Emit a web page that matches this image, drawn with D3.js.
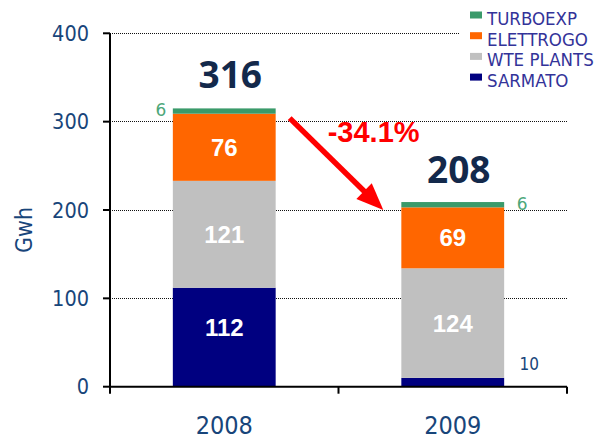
<!DOCTYPE html>
<html>
<head>
<meta charset="utf-8">
<script src="https://cdn.jsdelivr.net/npm/d3@7/dist/d3.min.js"></script>
<style>
  html, body { margin: 0; padding: 0; background: #fff; }
  svg { display: block; }
</style>
</head>
<body>
<svg id="chart" width="594" height="440"></svg>
<script>
// ---- data ----
const years = ["2008", "2009"];
const seriesNames = ["SARMATO", "WTE PLANTS", "ELETTROGO", "TURBOEXP"];
const sarmato = [112, 10];
const wtePlants = [121, 124];
const elettrogo = [76, 69];
const turboexp = [6, 6];
const totals = [316, 208];
const changeLabel = "-34.1%";
const yTicks = [0, 100, 200, 300, 400];
const legendOrder = ["TURBOEXP", "ELETTROGO", "WTE PLANTS", "SARMATO"];
const seriesColors = ["#000080", "#C0C0C0", "#FF6600", "#3A9A6A"];

// ---- build ----
(function () {
const svg = d3.select("#chart");
const pLeft = 110, pRight = 567, pTop = 33.3, pBottom = 386.7;

const y = d3.scaleLinear().domain([0, 400]).range([pBottom, pTop]);
const x = d3.scaleBand().domain(years).range([pLeft, pRight]).paddingInner(0.55).paddingOuter(0.275);
const xOuter = d3.scaleBand().domain(years).range([pLeft, pRight]).padding(0);
const color = d3.scaleOrdinal().domain(seriesNames).range(seriesColors);

const table = years.map((yr, i) => ({
  year: yr,
  "SARMATO": sarmato[i],
  "WTE PLANTS": wtePlants[i],
  "ELETTROGO": elettrogo[i],
  "TURBOEXP": turboexp[i],
  total: totals[i]
}));
const stacked = d3.stack().keys(seriesNames)(table);

const axisColor = "#18457A";
const tickFont = "'DejaVu Sans Condensed', 'DejaVu Sans', sans-serif";

// gridlines (dotted)
svg.append("g").selectAll("line").data(yTicks.filter(t => t > 0)).join("line")
  .attr("x1", pLeft).attr("x2", pRight)
  .attr("y1", d => y(d)).attr("y2", d => y(d))
  .attr("stroke", "#111").attr("stroke-width", 1).attr("stroke-dasharray", "1,1")
  .attr("shape-rendering", "crispEdges");

// bars
const layers = svg.append("g").selectAll("g").data(stacked).join("g")
  .attr("fill", d => color(d.key));
layers.selectAll("rect").data(d => d).join("rect")
  .attr("x", d => x(d.data.year))
  .attr("width", x.bandwidth())
  .attr("y", d => y(d[1]))
  .attr("height", d => y(d[0]) - y(d[1]));

// inside labels (white)
const insideKeys = ["SARMATO", "WTE PLANTS", "ELETTROGO"];
stacked.filter(s => insideKeys.includes(s.key)).forEach(s => {
  s.forEach(d => {
    const v = d[1] - d[0];
    if (v < 20) return;
    svg.append("text")
      .attr("x", x(d.data.year) + x.bandwidth() / 2)
      .attr("y", (y(d[0]) + y(d[1])) / 2 - (s.key === "SARMATO" ? 10 : 0))
      .attr("dy", "0.36em")
      .attr("text-anchor", "middle")
      .attr("fill", "#fff")
      .attr("font-family", "'Liberation Sans', Arial, sans-serif")
      .attr("font-weight", "bold")
      .attr("font-size", 24)
      .text(v);
  });
});

// outside small labels
const turbo = stacked.find(s => s.key === "TURBOEXP");
turbo.forEach((d, i) => {
  const cx = i === 0 ? x(d.data.year) - 12 : x(d.data.year) + x.bandwidth() + 18;
  svg.append("text")
    .attr("x", cx).attr("y", y(d[1]) + 8)
    .attr("text-anchor", "middle")
    .attr("fill", "#4DA77A")
    .attr("font-family", "'DejaVu Sans', sans-serif")
    .attr("font-size", 17)
    .text(d[1] - d[0]);
});
const sar = stacked.find(s => s.key === "SARMATO");
sar.forEach((d) => {
  const v = d[1] - d[0];
  if (v >= 20) return;
  svg.append("text")
    .attr("x", x(d.data.year) + x.bandwidth() + 25).attr("y", y(d[1]) - 8)
    .attr("text-anchor", "middle")
    .attr("fill", axisColor)
    .attr("font-family", tickFont)
    .attr("font-size", 17)
    .text(v);
});

// totals
table.forEach(d => {
  svg.append("text")
    .attr("x", x(d.year) + x.bandwidth() / 2 + 6)
    .attr("y", y(d.total) - 19.5)
    .attr("text-anchor", "middle")
    .attr("fill", "#13294B")
    .attr("font-family", "'Open Sans', 'Noto Sans', sans-serif")
    .attr("font-weight", "bold")
    .attr("font-size", 37)
    .text(d.total);
});

// y axis
svg.append("line").attr("x1", pLeft).attr("x2", pLeft).attr("y1", pTop).attr("y2", pBottom + 7)
  .attr("stroke", "#000").attr("stroke-width", 2);
svg.append("g").selectAll("line").data(yTicks).join("line")
  .attr("x1", pLeft - 7).attr("x2", pLeft)
  .attr("y1", d => y(d)).attr("y2", d => y(d))
  .attr("stroke", "#000").attr("stroke-width", 2);
svg.append("g").selectAll("text").data(yTicks).join("text")
  .attr("x", pLeft - 21).attr("y", d => y(d))
  .attr("dy", "0.36em")
  .attr("text-anchor", "end")
  .attr("fill", axisColor)
  .attr("font-family", tickFont)
  .attr("font-size", 21.5)
  .text(d => d);

// x axis
svg.append("line").attr("x1", pLeft).attr("x2", pRight).attr("y1", pBottom).attr("y2", pBottom)
  .attr("stroke", "#000").attr("stroke-width", 2);
const bounds = years.map(d => xOuter(d)).concat([xOuter(years[years.length - 1]) + xOuter.bandwidth()]);
svg.append("g").selectAll("line").data(bounds.slice(1)).join("line")
  .attr("x1", d => d).attr("x2", d => d)
  .attr("y1", pBottom).attr("y2", pBottom + 7)
  .attr("stroke", "#000").attr("stroke-width", 2);
svg.append("g").selectAll("text").data(years).join("text")
  .attr("x", d => x(d) + x.bandwidth() / 2)
  .attr("y", 434)
  .attr("text-anchor", "middle")
  .attr("fill", axisColor)
  .attr("font-family", tickFont)
  .attr("font-size", 25)
  .text(d => d);

// y axis title
svg.append("text")
  .attr("transform", `translate(32,230) rotate(-90)`)
  .attr("text-anchor", "middle")
  .attr("fill", axisColor)
  .attr("font-family", tickFont)
  .attr("font-size", 23)
  .text("Gwh");

// arrow
const ax1 = x(years[0]) + x.bandwidth() + 14, ay1 = y(304);
const ax2 = x(years[1]) - 18, ay2 = y(200);
const ang = Math.atan2(ay2 - ay1, ax2 - ax1);
const headLen = 27, headHalf = 11;
const bx = ax2 - headLen * Math.cos(ang), by = ay2 - headLen * Math.sin(ang);
svg.append("line")
  .attr("x1", ax1).attr("y1", ay1).attr("x2", bx + 2 * Math.cos(ang)).attr("y2", by + 2 * Math.sin(ang))
  .attr("stroke", "#FF0000").attr("stroke-width", 5.5);
svg.append("polygon")
  .attr("points", [
    [ax2, ay2],
    [bx - headHalf * Math.sin(ang), by + headHalf * Math.cos(ang)],
    [bx + headHalf * Math.sin(ang), by - headHalf * Math.cos(ang)]
  ].map(p => p.join(",")).join(" "))
  .attr("fill", "#FF0000");
svg.append("text")
  .attr("x", ax1 + 38).attr("y", y(277))
  .attr("fill", "#FF0000")
  .attr("font-family", "'Liberation Sans', Arial, sans-serif")
  .attr("font-weight", "bold")
  .attr("font-size", 29)
  .text(changeLabel);

// legend
const lg = svg.append("g");
lg.append("rect").attr("x", 460).attr("y", 0).attr("width", 134).attr("height", 95).attr("fill", "#fff");
legendOrder.forEach((k, i) => {
  const base = 25 + i * 20.7;
  lg.append("rect").attr("x", 470).attr("y", base - 13.5).attr("width", 12).attr("height", 7)
    .attr("fill", color(k));
  lg.append("text").attr("x", 487).attr("y", base)
    .attr("fill", "#333399")
    .attr("font-family", tickFont)
    .attr("font-size", 18.5)
    .text(k);
});
})();
</script>
</body>
</html>
